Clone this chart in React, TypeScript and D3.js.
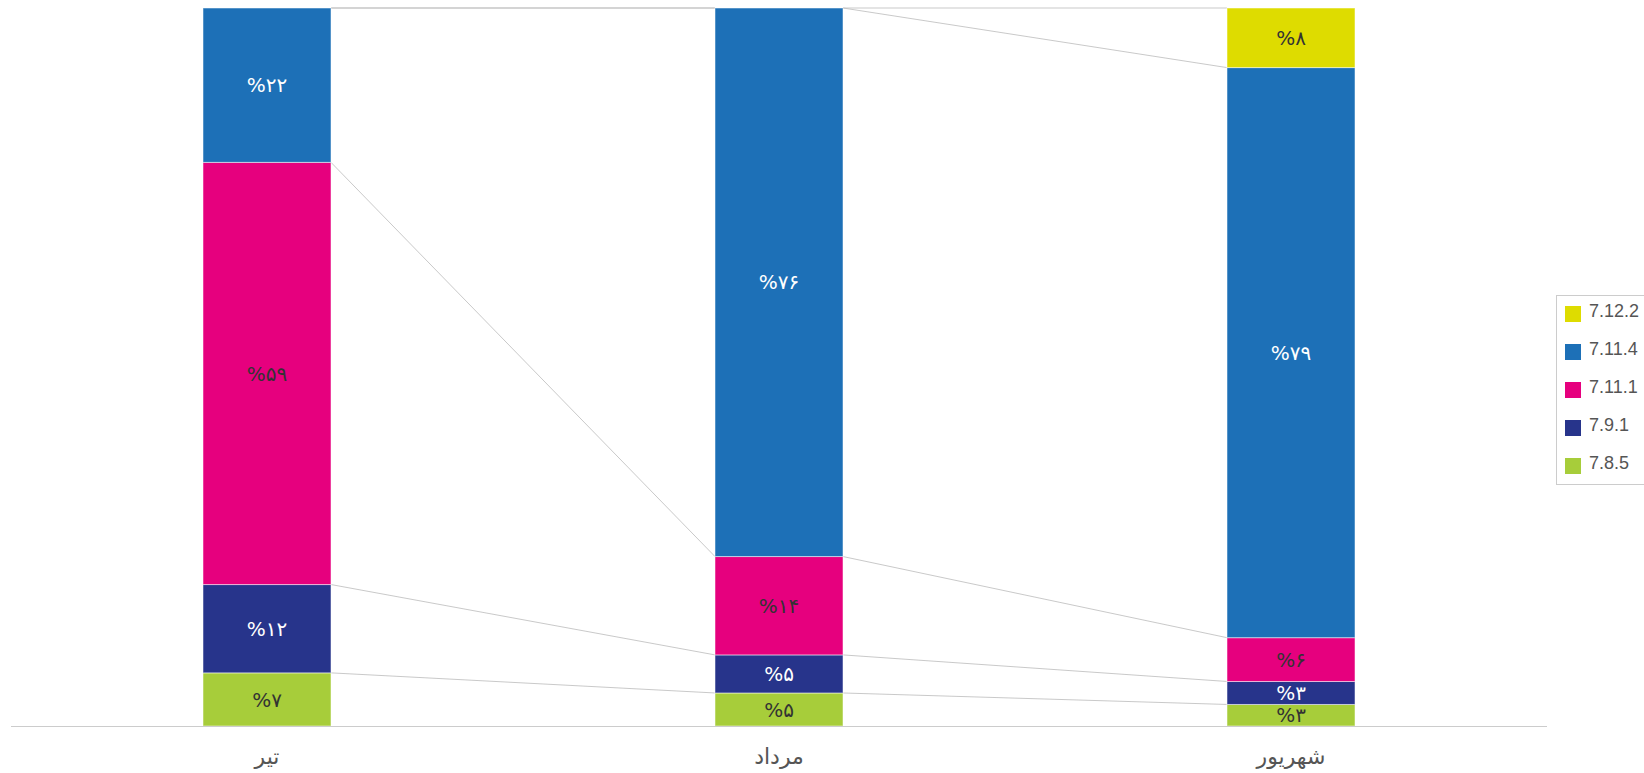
import React from "react";
import * as d3 from "d3";

const categories = ["تیر", "مرداد", "شهریور"];
const seriesNames = ["7.8.5", "7.9.1", "7.11.1", "7.11.4", "7.12.2"];
const seriesColors = ["#a7cd3a", "#27348b", "#e6007e", "#1d70b7", "#dedc00"];
const labelColors = ["#333333", "#ffffff", "#333333", "#ffffff", "#333333"];
// values per series (bottom to top), per category
const s785 = [7.4, 4.6, 3.0];
const s791 = [12.3, 5.3, 3.2];
const s7111 = [58.8, 13.7, 6.1];
const s7114 = [21.5, 76.4, 79.4];
const s7122 = [0, 0, 8.3];
const seriesValues = [s785, s791, s7111, s7114, s7122];

const W = 1644;
const H = 773;
const plotLeft = 11;
const plotRight = 1547;
const plotTop = 8;
const plotBottom = 726;

const toPersian = (n: number) =>
  String(n).replace(/[0-9]/g, (d) => "۰۱۲۳۴۵۶۷۸۹"[+d]);

export default function App() {
  const x = d3
    .scaleBand<string>()
    .domain(categories)
    .range([plotLeft, plotRight])
    .paddingInner(0.75)
    .paddingOuter(0.375);
  const y = d3.scaleLinear().domain([0, 100]).range([plotBottom, plotTop]);

  const table = categories.map((c, ci) => {
    const row: any = { cat: c };
    seriesNames.forEach((s, si) => (row[s] = seriesValues[si][ci]));
    return row;
  });
  const stacked = d3.stack<any>().keys(seriesNames)(table);
  const bw = x.bandwidth();

  return (
    <svg width={W} height={H} style={{ position: "absolute", left: 0, top: 0 }}>
      {/* connectors */}
      <g stroke="#bbbbbb" strokeWidth={0.8} fill="none">
        {stacked.map((ser, si) =>
          categories.slice(0, -1).map((c, ci) => {
            const a = ser[ci];
            const b = ser[ci + 1];
            return (
              <line
                key={si + "-" + ci}
                x1={(x(c) as number) + bw}
                y1={y(a[1])}
                x2={x(categories[ci + 1]) as number}
                y2={y(b[1])}
              />
            );
          })
        )}
      </g>
      {/* bars */}
      {stacked.map((ser, si) => (
        <g key={si}>
          {ser.map((d, ci) => {
            const h = y(d[0]) - y(d[1]);
            if (h <= 0) return null;
            return (
              <rect
                key={ci}
                x={x(categories[ci]) as number}
                y={y(d[1])}
                width={bw}
                height={h}
                fill={seriesColors[si]}
                stroke="#ffffff"
                strokeOpacity={0.5}
                strokeWidth={1}
              />
            );
          })}
        </g>
      ))}
      {/* labels */}
      {stacked.map((ser, si) => (
        <g key={"l" + si}>
          {ser.map((d, ci) => {
            const v = d[1] - d[0];
            if (v <= 0) return null;
            return (
              <text
                key={ci}
                x={(x(categories[ci]) as number) + bw / 2}
                y={(y(d[0]) + y(d[1])) / 2}
                dy="0.36em"
                textAnchor="middle"
                fontFamily="'DejaVu Sans', sans-serif"
                fontSize={20}
                fill={labelColors[si]}
                style={{ direction: "ltr", unicodeBidi: "bidi-override" } as any}
              >
                {"%" + toPersian(Math.round(v))}
              </text>
            );
          })}
        </g>
      ))}
      {/* axis */}
      <line x1={plotLeft} x2={plotRight} y1={plotBottom + 0.5} y2={plotBottom + 0.5} stroke="#cccccc" strokeWidth={1} />
      {categories.map((c) => (
        <text
          key={c}
          x={(x(c) as number) + bw / 2}
          y={764}
          textAnchor="middle"
          fontFamily="'DejaVu Sans', sans-serif"
          fontSize={22}
          fill="#555555"
        >
          {c}
        </text>
      ))}
      {/* legend */}
      <rect x={1556.5} y={295.5} width={100} height={189} fill="#ffffff" stroke="#cccccc" strokeWidth={1} />
      {seriesNames
        .map((s, i) => ({ s, i }))
        .reverse()
        .map(({ s, i }, k) => (
          <g key={s} transform={`translate(1565, ${306 + k * 38})`}>
            <rect width={16} height={16} fill={seriesColors[i]} />
            <text x={24} y={11} fontFamily="'Liberation Sans', Arial, sans-serif" fontSize={18} fill="#555555">
              {s}
            </text>
          </g>
        ))}
    </svg>
  );
}
